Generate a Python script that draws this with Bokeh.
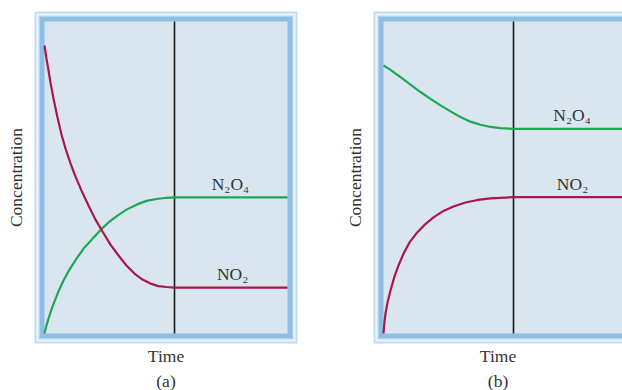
from bokeh.plotting import figure
from bokeh.layouts import row
from bokeh.models import Range1d, BoxAnnotation, Label, Title, FixedTicker
from bokeh.embed import file_html
from bokeh.resources import INLINE

# ---------------- data ----------------
# time in arbitrary units (0..100), concentration in arbitrary units (0..1)
T_EQ = 53.5          # time at which equilibrium is reached (vertical line)
T_END = 100.0
C_TOP = 1.0

# panel (a): start with pure NO2
time_a_no2 = [0, 0.82, 1.65, 2.47, 3.70, 5.35, 7.00, 8.64, 10.70, 12.76, 15.23, 18.11,
              20.99, 23.87, 27.16, 30.45, 33.74, 37.04, 40.33, 43.62, 46.91, 50.21, 53.5, 100]
conc_a_no2 = [0.923, 0.881, 0.843, 0.804, 0.753, 0.692, 0.638, 0.593, 0.545, 0.503, 0.458, 0.410,
              0.365, 0.327, 0.285, 0.250, 0.218, 0.192, 0.173, 0.160, 0.152, 0.149, 0.147, 0.147]
time_a_n2o4 = [0, 0.82, 1.65, 2.88, 4.12, 5.76, 7.82, 10.29, 13.17, 16.46, 19.75, 23.05,
               26.34, 30.04, 33.74, 37.86, 41.98, 46.09, 50.21, 53.5, 100]
conc_a_n2o4 = [0.0, 0.026, 0.048, 0.077, 0.103, 0.135, 0.170, 0.205, 0.240, 0.276, 0.304, 0.332,
               0.356, 0.378, 0.397, 0.413, 0.425, 0.431, 0.435, 0.436, 0.436]

# panel (b): start with pure N2O4
time_b_n2o4 = [0, 2.88, 7.0, 11.11, 15.23, 19.34, 23.46, 27.57, 31.69, 35.80, 39.92, 44.03,
               48.15, 53.5, 100]
conc_b_n2o4 = [0.859, 0.845, 0.822, 0.798, 0.774, 0.752, 0.731, 0.712, 0.694, 0.679, 0.669, 0.662,
               0.658, 0.656, 0.656]
time_b_no2 = [0, 0.41, 0.82, 1.65, 2.88, 4.53, 6.17, 8.23, 10.70, 13.58, 16.87, 20.58, 24.69,
              28.81, 33.74, 38.68, 44.03, 48.15, 53.5, 100]
conc_b_no2 = [0.0, 0.038, 0.064, 0.099, 0.138, 0.183, 0.218, 0.256, 0.292, 0.321, 0.348, 0.372, 0.393,
              0.407, 0.420, 0.428, 0.433, 0.435, 0.437, 0.437]

label_n2o4 = "N\u2082O\u2084"
label_no2 = "NO\u2082"
x_title = "Time"
y_title = "Concentration"
captions = ["(a)", "(b)"]

# ---------------- styling ----------------
RED = "#a8174b"
GREEN = "#1ea655"
INNER = "#d9e6f0"
TEXT = "#333333"
FONT = "Liberation Serif"
FS = "17.5px"

UX = T_END / 243.0   # data units per pixel (x)
UY = C_TOP / 312.0   # data units per pixel (y)
PAD = 10             # px of frame around the data area


def make_panel(width, border_left, border_right, frame_px_w, caption):
    x0 = -PAD * UX
    x1 = x0 + frame_px_w * UX
    p = figure(width=width, height=390, title=None,
               x_range=Range1d(x0, x1), y_range=Range1d(-PAD * UY, C_TOP + PAD * UY),
               output_backend="svg", toolbar_location=None,
               min_border_left=border_left, min_border_right=border_right,
               min_border_top=11, min_border_bottom=47)
    p.background_fill_color = "#c3dcef"
    p.border_fill_color = "white"
    p.outline_line_color = None
    p.grid.visible = False

    # layered frame
    for inset, col in [(8, "#eef5fb"), (6, "#b3d4ec"), (4.5, "#8cbfe2"), (0, INNER)]:
        p.add_layout(BoxAnnotation(left=-inset * UX, right=T_END + inset * UX,
                                   bottom=-inset * UY, top=C_TOP + inset * UY,
                                   fill_color=col, fill_alpha=1.0, line_color=None,
                                   level="underlay"))

    for ax, lab, so in [(p.xaxis[0], x_title, 2), (p.yaxis[0], y_title, 9)]:
        ax.ticker = FixedTicker(ticks=[])
        ax.axis_line_color = None
        ax.major_tick_line_color = None
        ax.minor_tick_line_color = None
        ax.major_tick_out = 0
        ax.major_tick_in = 0
        ax.major_label_standoff = 0
        ax.major_label_text_font_size = "0px"
        ax.axis_label = lab
        ax.axis_label_text_font = FONT
        ax.axis_label_text_font_size = FS
        ax.axis_label_text_font_style = "normal"
        ax.axis_label_text_color = TEXT
        ax.axis_label_standoff = so

    p.add_layout(Title(text=caption, align="center", text_font=FONT, text_font_size=FS,
                       text_font_style="normal", text_color=TEXT, standoff=0, offset=0), "below")
    return p


def add_labels(p, items):
    for txt, x, y in items:
        p.add_layout(Label(x=x, y=y, text=txt, text_align="center", text_baseline="middle",
                           text_font=FONT, text_font_size=FS, text_color=TEXT))


# ---------- panel (a)
pa = make_panel(340, 34, 43, 263, captions[0])
pa.segment(x0=[T_EQ], y0=[0], x1=[T_EQ], y1=[C_TOP], line_color="#1a1a1a", line_width=1.6)
pa.line(time_a_n2o4, conc_a_n2o4, line_color=GREEN, line_width=2.2)
pa.line(time_a_no2, conc_a_no2, line_color=RED, line_width=2.2)
add_labels(pa, [(label_n2o4, 76.5, 0.478), (label_no2, 77.4, 0.19)])

# ---------- panel (b)
pb = make_panel(282, 33, 0, 249, captions[1])
pb.segment(x0=[T_EQ], y0=[0], x1=[T_EQ], y1=[C_TOP], line_color="#1a1a1a", line_width=1.6)
pb.line(time_b_n2o4, conc_b_n2o4, line_color=GREEN, line_width=2.2)
pb.line(time_b_no2, conc_b_no2, line_color=RED, line_width=2.2)
add_labels(pb, [(label_n2o4, 77.6, 0.70), (label_no2, 77.8, 0.478)])

layout = row(pa, pb)
open("out.html", "w").write(file_html(layout, INLINE))
